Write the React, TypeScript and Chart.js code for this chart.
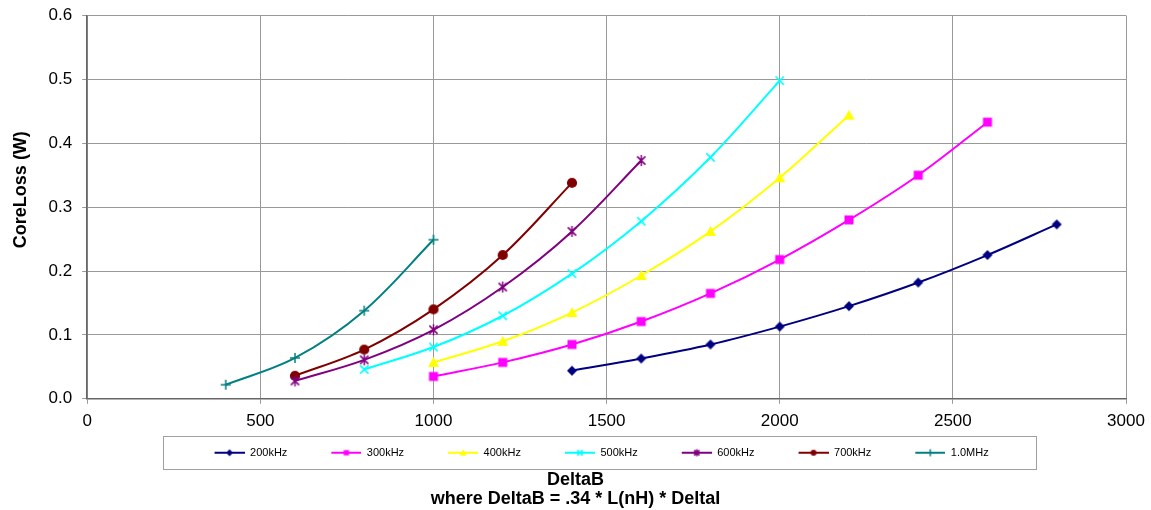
import React, { useEffect, useRef } from "react";
import { Chart, registerables } from "chart.js";

Chart.register(...registerables);

// ---- data ----
const seriesNames = ["200kHz", "300kHz", "400kHz", "500kHz", "600kHz", "700kHz", "1.0MHz"];
const seriesColors = ["#000080", "#FF00FF", "#FFFF00", "#00FFFF", "#800080", "#800000", "#008080"];

const deltaB200 = [1400, 1600, 1800, 2000, 2200, 2400, 2600, 2800];
const loss200 = [0.044, 0.063, 0.085, 0.113, 0.145, 0.182, 0.225, 0.273];

const deltaB300 = [1000, 1200, 1400, 1600, 1800, 2000, 2200, 2400, 2600];
const loss300 = [0.035, 0.057, 0.085, 0.121, 0.165, 0.218, 0.28, 0.35, 0.433];

const deltaB400 = [1000, 1200, 1400, 1600, 1800, 2000, 2200];
const loss400 = [0.057, 0.09, 0.135, 0.193, 0.262, 0.346, 0.444];

const deltaB500 = [800, 1000, 1200, 1400, 1600, 1800, 2000];
const loss500 = [0.046, 0.081, 0.13, 0.196, 0.278, 0.378, 0.498];

const deltaB600 = [600, 800, 1000, 1200, 1400, 1600];
const loss600 = [0.028, 0.061, 0.108, 0.175, 0.262, 0.373];

const deltaB700 = [600, 800, 1000, 1200, 1400];
const loss700 = [0.036, 0.077, 0.14, 0.225, 0.338];

const deltaB1M = [400, 600, 800, 1000];
const loss1M = [0.022, 0.064, 0.138, 0.249];

const xValues = [deltaB200, deltaB300, deltaB400, deltaB500, deltaB600, deltaB700, deltaB1M];
const yValues = [loss200, loss300, loss400, loss500, loss600, loss700, loss1M];

const markerKinds = ["diamond", "square", "triangle", "x", "star", "circle", "plus"];

const xAxisTitle = "DeltaB";
const xAxisSubTitle = "where DeltaB = .34 * L(nH) * DeltaI";
const yAxisTitle = "CoreLoss (W)";

const FONT = 'Arial, "Liberation Sans", Helvetica, sans-serif';
const ICON_BLANK = 32;
const ICON_W = 62;
const LEGEND_SHIFT = -21;

function drawMarker(ctx: CanvasRenderingContext2D, kind: string, x: number, y: number, r: number, color: string) {
  ctx.save();
  ctx.fillStyle = color;
  ctx.strokeStyle = color;
  ctx.lineWidth = 1.5;
  ctx.beginPath();
  if (kind === "diamond") {
    ctx.moveTo(x, y - r);
    ctx.lineTo(x + r, y);
    ctx.lineTo(x, y + r);
    ctx.lineTo(x - r, y);
    ctx.closePath();
    ctx.fill();
  } else if (kind === "square") {
    ctx.rect(x - r * 0.75, y - r * 0.75, r * 1.5, r * 1.5);
    ctx.fill();
  } else if (kind === "triangle") {
    ctx.moveTo(x, y - r);
    ctx.lineTo(x + r, y + r * 0.8);
    ctx.lineTo(x - r, y + r * 0.8);
    ctx.closePath();
    ctx.fill();
  } else if (kind === "circle") {
    ctx.arc(x, y, r * 0.85, 0, Math.PI * 2);
    ctx.fill();
  } else if (kind === "x") {
    const d = r * 0.75;
    ctx.moveTo(x - d, y - d);
    ctx.lineTo(x + d, y + d);
    ctx.moveTo(x + d, y - d);
    ctx.lineTo(x - d, y + d);
    ctx.stroke();
  } else if (kind === "star") {
    const d = r * 0.75;
    ctx.moveTo(x - d, y - d);
    ctx.lineTo(x + d, y + d);
    ctx.moveTo(x + d, y - d);
    ctx.lineTo(x - d, y + d);
    ctx.moveTo(x, y - r);
    ctx.lineTo(x, y + r);
    ctx.stroke();
  } else if (kind === "plus") {
    ctx.moveTo(x - r, y);
    ctx.lineTo(x + r, y);
    ctx.moveTo(x, y - r);
    ctx.lineTo(x, y + r);
    ctx.stroke();
  }
  ctx.restore();
}

function makeLegendIcon(kind: string, color: string): HTMLCanvasElement {
  const c = document.createElement("canvas");
  c.width = ICON_W;
  c.height = 10;
  const ctx = c.getContext("2d")!;
  ctx.strokeStyle = color;
  ctx.lineWidth = 2;
  ctx.beginPath();
  ctx.moveTo(ICON_BLANK, 5);
  ctx.lineTo(ICON_W, 5);
  ctx.stroke();
  drawMarker(ctx, kind, ICON_BLANK + (ICON_W - ICON_BLANK) / 2, 5, 3.5, color);
  return c;
}

function makePointIcon(kind: string, color: string, r: number): HTMLCanvasElement {
  const size = Math.ceil(r * 2 + 4);
  const c = document.createElement("canvas");
  c.width = size;
  c.height = size;
  const ctx = c.getContext("2d")!;
  drawMarker(ctx, kind, size / 2, size / 2, r, color);
  return c;
}

const legendBoxPlugin = {
  id: "legendBox",
  afterLayout(chart: any) {
    const lg = chart.legend;
    if (!lg) return;
    lg.left += LEGEND_SHIFT;
    lg.right += LEGEND_SHIFT;
  },
  afterDraw(chart: any) {
    const lg = chart.legend;
    if (!lg || !lg.legendHitBoxes || !lg.legendHitBoxes.length) return;
    const hb = lg.legendHitBoxes;
    const first = hb[0];
    const last = hb[hb.length - 1];
    const cy = first.top + first.height / 2;
    const left = first.left + ICON_BLANK - 52;
    const right = last.left + last.width + 47;
    const ctx = chart.ctx;
    ctx.save();
    ctx.strokeStyle = "#a0a0a0";
    ctx.lineWidth = 1;
    ctx.strokeRect(Math.round(left) + 0.5, Math.round(cy - 16.5) + 0.5, Math.round(right - left), 33);
    ctx.restore();
  },
};

export default function App() {
  const ref = useRef<HTMLCanvasElement | null>(null);

  useEffect(() => {
    if (!ref.current) return;
    const radii = [5, 6, 5.5, 5.5, 5.5, 6, 5];
    const pointIcons = markerKinds.map((k, i) => makePointIcon(k, seriesColors[i], radii[i]));
    const legendIcons = markerKinds.map((k, i) => makeLegendIcon(k, seriesColors[i]));

    const datasets = seriesNames.map((name, i) => ({
      label: name,
      data: xValues[i].map((x, j) => ({ x, y: yValues[i][j] })),
      borderColor: seriesColors[i],
      backgroundColor: seriesColors[i],
      borderWidth: 2,
      pointStyle: pointIcons[i] as any,
      pointRadius: radii[i],
      tension: 0.35,
      fill: false,
    }));

    const chart = new Chart(ref.current, {
      type: "line",
      data: { datasets },
      plugins: [legendBoxPlugin],
      options: {
        animation: false,
        responsive: true,
        maintainAspectRatio: false,
        layout: { padding: 0 },
        font: { family: FONT },
        scales: {
          x: {
            type: "linear",
            min: 0,
            max: 3000,
            ticks: {
              stepSize: 500,
              color: "#000",
              font: { family: FONT, size: 17 },
              padding: 7,
              maxRotation: 0,
              callback: (v: any) => String(v),
            },
            grid: { color: "#999", lineWidth: 1, tickLength: 5, drawTicks: true },
            border: { color: "#666", width: 1.5 },
            afterFit: (s: any) => {
              s.paddingRight = 25;
              s.height -= 3;
            },
          },
          y: {
            min: 0,
            max: 0.6,
            ticks: {
              stepSize: 0.1,
              color: "#000",
              font: { family: FONT, size: 17 },
              padding: 10,
              callback: (v: any) => Number(v).toFixed(1),
            },
            grid: { color: "#999", lineWidth: 1, tickLength: 5, drawTicks: true },
            border: { color: "#666", width: 1.5 },
            title: {
              display: true,
              text: "       " + yAxisTitle,
              color: "#000",
              font: { family: FONT, size: 18, weight: "bold" },
              padding: { top: 10, bottom: 7 },
            },
            afterFit: (s: any) => {
              s.paddingTop = 15.5;
            },
          },
        },
        plugins: {
          legend: {
            display: true,
            position: "bottom",
            fullSize: false,
            labels: {
              usePointStyle: true,
              pointStyleWidth: ICON_W,
              boxHeight: 10,
              padding: 12,
              color: "#000",
              font: { family: FONT, size: 11 },
              generateLabels: (c: any) => {
                const items = (Chart.defaults.plugins.legend.labels as any).generateLabels(c);
                return items.map((it: any, i: number) => ({ ...it, pointStyle: legendIcons[i] }));
              },
            },
          },
          title: {
            display: true,
            position: "bottom",
            text: [xAxisTitle, xAxisSubTitle],
            color: "#000",
            font: { family: FONT, size: 18, weight: "bold", lineHeight: 1.05 },
            padding: { top: 2, bottom: 2 },
          },
          tooltip: { enabled: false },
        },
      } as any,
    });
    return () => chart.destroy();
  }, []);

  return (
    <div style={{ position: "absolute", left: 0, top: 0, width: 1151, height: 510, background: "#fff" }}>
      <canvas ref={ref} />
    </div>
  );
}
